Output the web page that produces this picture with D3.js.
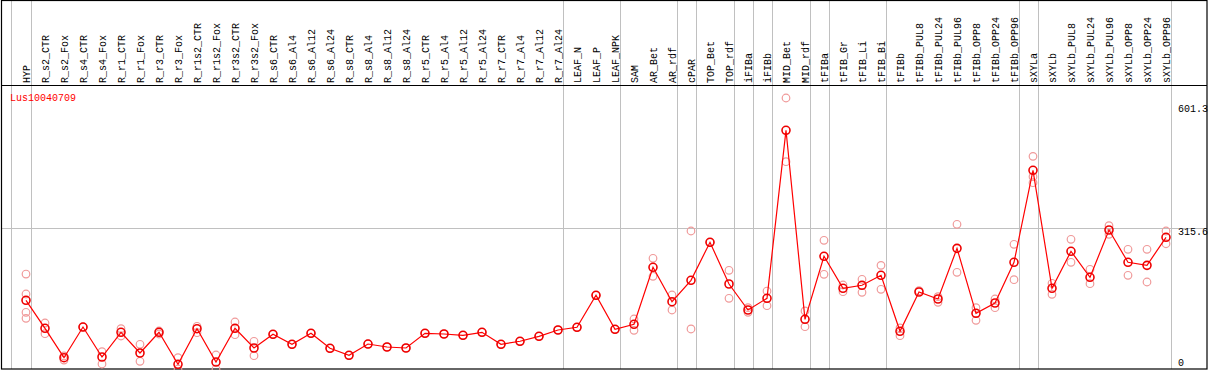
<!DOCTYPE html>
<meta charset="utf-8">
<script src="https://cdn.jsdelivr.net/npm/d3@7"></script>
<style>
  body { margin: 0; background: #fff; }
  text { font-family: "Liberation Mono", "DejaVu Sans Mono", monospace; font-size: 10px; }
</style>
<body>
<script>

var gene = "Lus10040709";

var columns = ["HYP", "R_s2_CTR", "R_s2_Fox", "R_s4_CTR", "R_s4_Fox", "R_r1_CTR", "R_r1_Fox",
  "R_r3_CTR", "R_r3_Fox", "R_r1s2_CTR", "R_r1s2_Fox", "R_r3s2_CTR", "R_r3s2_Fox",
  "R_s6_CTR", "R_s6_Al4", "R_s6_Al12", "R_s6_Al24", "R_s8_CTR", "R_s8_Al4", "R_s8_Al12", "R_s8_Al24",
  "R_r5_CTR", "R_r5_Al4", "R_r5_Al12", "R_r5_Al24", "R_r7_CTR", "R_r7_Al4", "R_r7_Al12", "R_r7_Al24",
  "LEAF_N", "LEAF_P", "LEAF_NPK", "SAM", "AR_Bet", "AR_rdf", "cPAR", "TOP_Bet", "TOP_rdf",
  "iFIBa", "iFIBb", "MID_Bet", "MID_rdf", "tFIBa", "tFIB_Gr", "tFIB_Li", "tFIB_Bi",
  "tFIBb", "tFIBb_PUL8", "tFIBb_PUL24", "tFIBb_PUL96", "tFIBb_OPP8", "tFIBb_OPP24", "tFIBb_OPP96",
  "sXYLa", "sXYLb", "sXYLb_PUL8", "sXYLb_PUL24", "sXYLb_PUL96", "sXYLb_OPP8", "sXYLb_OPP24", "sXYLb_OPP96"];

// mean expression per sample
var means = [157.3, 95.9, 31.4, 98.7, 32.9, 87.1, 41.7,
  87.1, 16.9, 95.0, 21.9, 95.9, 52.7,
  82.7, 60.8, 84.9, 52.0, 36.6, 61.4, 54.9, 52.7,
  84.9, 83.4, 80.5, 87.1, 60.8, 67.4, 78.3, 92.2,
  98.1, 168.3, 93.7, 104.7, 229.8, 154.3, 201.2, 284.6, 193.1,
  136.1, 161.7, 530.4, 115.6, 253.9, 183.7, 190.3, 212.2,
  89.3, 175.6, 160.2, 271.4, 128.8, 151.4, 240.7,
  442.6, 183.7, 264.9, 207.8, 311.6, 240.7, 234.1, 295.6];

// individual replicates
var reps = [[215.0, 171.2, 131.0, 117.8], [107.5, 84.0], [35.1, 26.3], [98.7], [44.5, 17.6], [95.0, 79.0], [60.8, 23.5],
  [90.0, 83.4], [31.4, 6.6], [100.3, 86.2], [37.3, 6.6], [109.7, 81.9], [67.4, 35.8],
  [82.7], [60.8], [84.9], [52.0], [36.6], [61.4], [54.9], [52.7],
  [84.9], [83.4], [80.5], [87.1], [60.8], [67.4], [78.3], [92.2],
  [98.1], [168.3], [93.7], [116.3, 91.5], [249.5, 210.0], [169.0, 136.1], [309.4, 94.4], [284.6], [223.2, 161.7],
  [141.1, 131.0], [177.7, 145.5], [601.3, 461.5], [133.9, 99.4], [289.0, 214.4], [190.9, 176.2], [203.4, 174.9], [234.1, 181.5],
  [79.7, 96.6], [178.4], [165.2, 153.0], [324.1, 218.8], [141.1, 113.5], [160.2, 141.1], [280.2, 202.5],
  [473.3, 428.6, 415.4], [170.5, 194.6], [291.2, 240.7], [225.4, 193.8], [321.0, 302.2], [269.3, 212.2], [269.3, 197.5], [309.4, 281.5]];

var groupEnds = ["HYP", "R_r7_Al24", "LEAF_NPK", "AR_rdf", "cPAR", "TOP_rdf", "iFIBa", "iFIBb",
  "MID_rdf", "tFIBa", "tFIB_Bi", "tFIBb_OPP96", "sXYLa", "sXYLb_OPP96"];

var yTicks = [601.3, 315.6, 0];

var W = 1209, H = 370;
var svg = d3.select("body").append("svg")
    .attr("width", W).attr("height", H);

var x = d3.scalePoint().domain(columns).range([26, 1166]);
var step = x.step();
var y = d3.scaleLinear().domain([0, 601.3]).range([372, 98]);

// horizontal grid line at mid tick
svg.append("line")
    .attr("x1", 1).attr("x2", 1207)
    .attr("y1", Math.round(y(315.6)) + 0.5).attr("y2", Math.round(y(315.6)) + 0.5)
    .style("stroke", "#c0c0c0");

// group separators
var seps = [x(columns[0]) - step + 4].concat(groupEnds.map(function(c) { return x(c) + 4.5; }));
svg.selectAll(".sep").data(seps).enter().append("line")
    .attr("class", "sep")
    .attr("x1", function(d) { return Math.round(d) + 0.5; })
    .attr("x2", function(d) { return Math.round(d) + 0.5; })
    .attr("y1", 0).attr("y2", 369)
    .style("stroke", "#c0c0c0");

// frame
svg.append("rect").attr("x", 1.5).attr("y", 0.5).attr("width", 1205.5).attr("height", 368.5)
    .style("fill", "none").style("stroke", "#000").style("stroke-width", 1.2);
svg.append("line").attr("x1", 1).attr("x2", 1207).attr("y1", 85.5).attr("y2", 85.5)
    .style("stroke", "#000").style("stroke-width", 1.2);

// column labels
svg.selectAll(".col").data(columns).enter().append("text")
    .attr("class", "col")
    .attr("transform", function(d) { return "translate(" + (x(d) + 4) + ",83) rotate(-90)"; })
    .text(function(d) { return d; });

// y labels
svg.selectAll(".ylab").data(yTicks).enter().append("text")
    .attr("class", "ylab")
    .attr("x", 1178)
    .attr("y", function(d) { return Math.min(Math.max(y(d) + 7, 111.5), 365.5); })
    .text(function(d) { return d; });

svg.append("text").attr("x", 10).attr("y", 101).style("fill", "#ff0000").text(gene);

// replicate points
var repPts = [];
columns.forEach(function(c, i) { reps[i].forEach(function(v) { repPts.push({ c: c, v: v }); }); });
svg.selectAll(".rep").data(repPts).enter().append("circle")
    .attr("class", "rep")
    .attr("cx", function(d) { return x(d.c); })
    .attr("cy", function(d) { return y(d.v); })
    .attr("r", 3.8)
    .style("fill", "none").style("stroke", "#f09a9a").style("stroke-width", 1.2);

// mean line
var line = d3.line().x(function(d, i) { return x(columns[i]); }).y(function(d) { return y(d); });
svg.append("path").datum(means).attr("d", line)
    .style("fill", "none").style("stroke", "#ff0000").style("stroke-width", 1.2);

svg.selectAll(".mean").data(means).enter().append("circle")
    .attr("class", "mean")
    .attr("cx", function(d, i) { return x(columns[i]); })
    .attr("cy", function(d) { return y(d); })
    .attr("r", 4)
    .style("fill", "none").style("stroke", "#ee0000").style("stroke-width", 1.6);

</script>
</body>
